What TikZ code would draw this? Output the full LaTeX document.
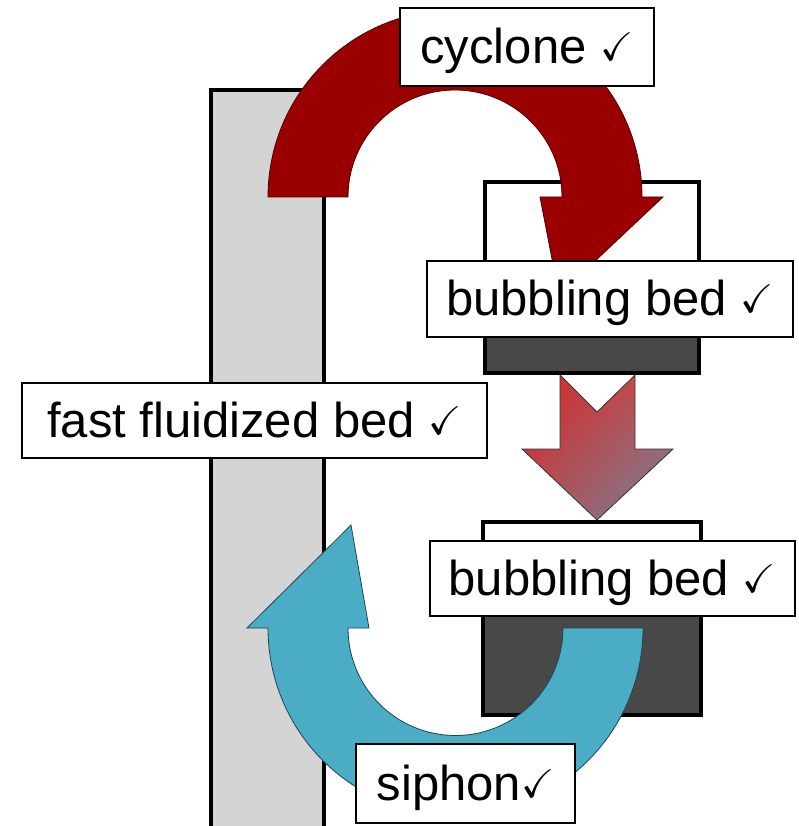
\documentclass[tikz,border=0pt]{standalone}
\usepackage{amssymb}
\usepackage{fontspec}
\setmainfont{Liberation Sans}
\usetikzlibrary{shadings}
\definecolor{colgray}{RGB}{212,212,212}
\definecolor{bedgray}{RGB}{72,72,72}
\definecolor{arrowred}{RGB}{155,0,0}
\definecolor{arrowredline}{RGB}{80,0,0}
\definecolor{arrowblue}{RGB}{75,172,198}
\definecolor{arrowblueline}{RGB}{30,70,85}
\definecolor{gradA}{RGB}{212,38,38}
\definecolor{gradB}{RGB}{185,85,88}
\definecolor{gradC}{RGB}{178,78,82}
\definecolor{gradD}{RGB}{112,132,160}
\newcommand\ck{{\fontsize{40}{40}\selectfont\raisebox{3pt}{$\checkmark$}}}
\begin{document}
\begin{tikzpicture}[x=1pt,y=-1pt,
  lab/.style={draw=black, line width=1.3pt, fill=white, inner sep=0pt, outer sep=0pt,
    font=\fontsize{49}{58}\selectfont, text height=44pt, text depth=10.4pt},
  column/.style={draw=black, line width=4pt, fill=colgray, inner sep=0pt, outer sep=0pt},
  bedbox/.style={draw=black, line width=4pt, fill=white, inner sep=0pt, outer sep=0pt},
  redarrow/.style={fill=arrowred, draw=arrowredline, line width=0.8pt, line join=miter},
  bluearrow/.style={fill=arrowblue, draw=arrowblueline, line width=0.8pt, line join=miter},
  gradarrow/.style={draw=black!80, line width=0.8pt, upper left=gradA, upper right=gradB,
    lower left=gradC, lower right=gradD}
]
\useasboundingbox (0,0) rectangle (798,826);

% riser column
\node[column, minimum width=113, minimum height=750] (riser) at (267.5,465) {};

% bubbling bed vessels
\node[bedbox, minimum width=214, minimum height=191,
  path picture={\fill[bedgray] ([yshift=75pt]path picture bounding box.south west)
    rectangle (path picture bounding box.south east);}] (bedtop) at (592,277.5) {};
\node[bedbox, minimum width=218, minimum height=193,
  path picture={\fill[bedgray] ([yshift=125pt]path picture bounding box.south west)
    rectangle (path picture bounding box.south east);}] (bedbot) at (592,618.5) {};

% middle gradient arrow
\shade[gradarrow] (560,375) -- (597,412) -- (635,375) -- (635,449) -- (673,449)
  -- (597,520) -- (522,449) -- (560,449) -- cycle;

% red cyclone arrow
\draw[redarrow] (268,197) arc[start angle=180, end angle=360, radius=187]
  -- (663,197) -- (559,295) -- (540,197) -- (562,197)
  arc[start angle=360, end angle=180, radius=107] -- cycle;

% blue siphon arrow
\draw[bluearrow] (643,628) arc[start angle=0, end angle=180, radius=187.5]
  -- (247,628) -- (351,525) -- (369,628) -- (348,628)
  arc[start angle=180, end angle=0, radius=107.5] -- cycle;

% labels
\node[lab, minimum width=254, minimum height=78] (cyclone) at (527,47) {cyclone \ck};
\node[lab, minimum width=366, minimum height=76] (bb1) at (610,299) {bubbling bed \ck};
\node[lab, minimum width=465, minimum height=75] (ffb) at (254.5,420.5) {fast fluidized bed \ck};
\node[lab, minimum width=365, minimum height=75] (bb2) at (612.5,578.5) {bubbling bed \ck};
\node[lab, minimum width=219, minimum height=79] (siphon) at (465.5,783.5) {siphon\ck};
\end{tikzpicture}
\end{document}
